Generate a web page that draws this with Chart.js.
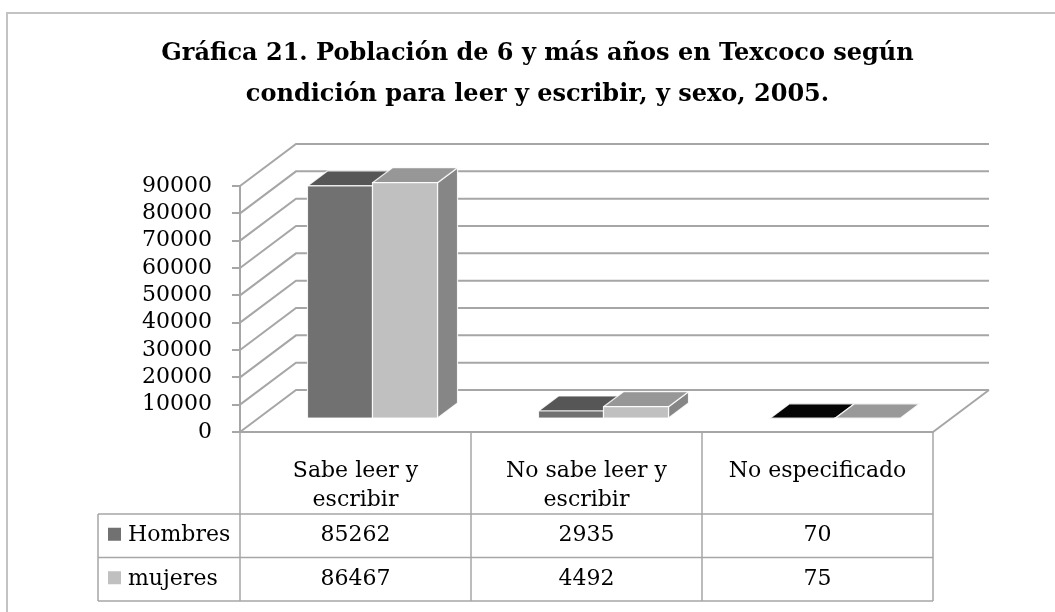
<!DOCTYPE html>
<html>
<head>
<meta charset="utf-8">
<script src="https://cdn.jsdelivr.net/npm/chart.js@4/dist/chart.umd.min.js"></script>
<style>
  html, body { margin: 0; padding: 0; background: #fff; }
  canvas { display: block; }
</style>
</head>
<body>
<canvas id="chart" width="1055" height="612"></canvas>
<script>
const titleLines = [
    "Gráfica 21. Población de 6 y más años en Texcoco según",
    "condición para leer y escribir, y sexo, 2005."
];
const categories = [
    ["Sabe leer y", "escribir"],
    ["No sabe leer y", "escribir"],
    ["No especificado"]
];
const hombres = [85262, 2935, 70];
const mujeres = [86467, 4492, 75];
const yTicks = [0, 10000, 20000, 30000, 40000, 50000, 60000, 70000, 80000, 90000];

const FONT = "'DejaVu Serif', serif";
const LINE = "#a6a6a6";

// depth of the back wall and of the bars
const wallDepth = { x: 56, y: -42 };
const barShift = { x: 17, y: -13 };
const barDepth = { x: 20, y: -15 };

const threeD = {
    id: "threeD",
    beforeDraw(chart) {
        const ctx = chart.ctx;
        ctx.save();
        ctx.fillStyle = "#fff";
        ctx.fillRect(0, 0, chart.width, chart.height);
        ctx.strokeStyle = "#c3c3c3";
        ctx.lineWidth = 2;
        ctx.beginPath();
        ctx.moveTo(7, chart.height);
        ctx.lineTo(7, 13);
        ctx.lineTo(chart.width, 13);
        ctx.stroke();
        ctx.restore();
    },
    beforeDatasetsDraw(chart) {
        const ctx = chart.ctx;
        const { left, right, bottom } = chart.chartArea;
        const y = chart.scales.y;
        ctx.save();
        ctx.strokeStyle = LINE;
        ctx.lineWidth = 2;
        ctx.beginPath();
        yTicks.forEach((v) => {
            const py = y.getPixelForValue(v);
            ctx.moveTo(left, py);
            ctx.lineTo(left + wallDepth.x, py + wallDepth.y);
            ctx.lineTo(right + wallDepth.x, py + wallDepth.y);
        });
        ctx.moveTo(right, bottom);
        ctx.lineTo(right + wallDepth.x, bottom + wallDepth.y);
        ctx.stroke();
        ctx.restore();
    },
    afterDatasetsDraw(chart) {
        const ctx = chart.ctx;
        const n = categories.length;
        ctx.save();
        ctx.lineWidth = 1.2;
        ctx.strokeStyle = "rgba(255,255,255,0.85)";
        ctx.lineJoin = "round";
        for (let i = 0; i < n; i++) {
            chart.data.datasets.forEach((ds, d) => {
                const el = chart.getDatasetMeta(d).data[i];
                const x0 = el.x - el.width / 2 + barShift.x;
                const x1 = el.x + el.width / 2 + barShift.x;
                const yb = el.base + barShift.y;
                const yt = el.y + barShift.y;
                const bx = barDepth.x, by = barDepth.y;
                // side
                ctx.fillStyle = ds.sideColor;
                ctx.beginPath();
                ctx.moveTo(x1, yb);
                ctx.lineTo(x1 + bx, yb + by);
                ctx.lineTo(x1 + bx, yt + by);
                ctx.lineTo(x1, yt);
                ctx.closePath();
                ctx.fill();
                ctx.stroke();
                // top
                ctx.fillStyle = ds.topColor[i];
                ctx.beginPath();
                ctx.moveTo(x0, yt);
                ctx.lineTo(x0 + bx, yt + by);
                ctx.lineTo(x1 + bx, yt + by);
                ctx.lineTo(x1, yt);
                ctx.closePath();
                ctx.fill();
                ctx.stroke();
                // front
                ctx.fillStyle = ds.frontColor;
                ctx.beginPath();
                ctx.rect(x0, yt, x1 - x0, yb - yt);
                ctx.fill();
                ctx.stroke();
            });
        }
        ctx.restore();
    },
    afterDraw(chart) {
        // data table under the plot
        const ctx = chart.ctx;
        const { left, right, bottom } = chart.chartArea;
        const x = chart.scales.x;
        const colW = (right - left) / categories.length;
        const headBottom = 514;
        const rowH = 43.5;
        const tableLeft = 98;
        const tableBottom = headBottom + rowH * chart.data.datasets.length;
        ctx.save();
        ctx.strokeStyle = LINE;
        ctx.lineWidth = 1.5;
        ctx.beginPath();
        for (let k = 0; k <= categories.length; k++) {
            ctx.moveTo(left + k * colW, bottom);
            ctx.lineTo(left + k * colW, tableBottom);
        }
        ctx.moveTo(tableLeft, headBottom);
        ctx.lineTo(tableLeft, tableBottom);
        for (let r = 0; r <= chart.data.datasets.length; r++) {
            ctx.moveTo(tableLeft, headBottom + r * rowH);
            ctx.lineTo(right, headBottom + r * rowH);
        }
        ctx.stroke();

        ctx.font = "22px " + FONT;
        ctx.textBaseline = "middle";
        chart.data.datasets.forEach((ds, d) => {
            const cy = headBottom + rowH * (d + 0.5);
            ctx.fillStyle = ds.frontColor;
            ctx.fillRect(108, cy - 8, 13, 13);
            ctx.fillStyle = "#000";
            ctx.textAlign = "left";
            ctx.fillText(ds.label, 128, cy);
            ctx.textAlign = "center";
            ds.data.forEach((v, i) => {
                ctx.fillText(String(v), x.getPixelForValue(i), cy);
            });
        });
        ctx.restore();
    }
};

new Chart(document.getElementById("chart"), {
    type: "bar",
    data: {
        labels: categories,
        datasets: [
            {
                label: "Hombres",
                data: hombres,
                backgroundColor: "transparent",
                frontColor: "#717171",
                topColor: ["#565656", "#565656", "#050505"],
                sideColor: "#5e5e5e"
            },
            {
                label: "mujeres",
                data: mujeres,
                backgroundColor: "transparent",
                frontColor: "#c0c0c0",
                topColor: ["#979797", "#979797", "#999999"],
                sideColor: "#868686"
            }
        ]
    },
    options: {
        responsive: false,
        animation: false,
        events: [],
        categoryPercentage: 0.563,
        barPercentage: 1,
        layout: { padding: { left: 20, right: 0, top: 0, bottom: 0 } },
        plugins: {
            legend: { display: false },
            tooltip: { enabled: false },
            title: {
                display: true,
                text: titleLines,
                color: "#000",
                font: { family: FONT, size: 24, weight: "bold", lineHeight: 41 / 24 },
                padding: { top: 33, bottom: 71 }
            }
        },
        scales: {
            x: {
                grid: { display: false, drawTicks: false },
                border: { display: true, color: LINE, width: 2 },
                ticks: {
                    color: "#000",
                    font: { family: FONT, size: 22, lineHeight: 29 / 22 },
                    padding: 25,
                    maxRotation: 0,
                    autoSkip: false
                },
                afterFit(scale) { scale.height = 180; }
            },
            y: {
                min: 0,
                max: 90000,
                grid: { drawOnChartArea: false, drawTicks: true, tickLength: 8, color: LINE, lineWidth: 2 },
                border: { display: true, color: LINE, width: 2 },
                ticks: {
                    stepSize: 10000,
                    autoSkip: false,
                    color: "#000",
                    font: { family: FONT, size: 22 },
                    padding: 20,
                    callback: (v) => String(v)
                },
                afterFit(scale) { scale.width = 220; }
            },
            y2: {
                type: "linear",
                position: "right",
                grid: { display: false },
                border: { display: false },
                ticks: { display: false },
                afterFit(scale) { scale.width = 122; }
            }
        }
    },
    plugins: [threeD]
});
</script>
</body>
</html>
